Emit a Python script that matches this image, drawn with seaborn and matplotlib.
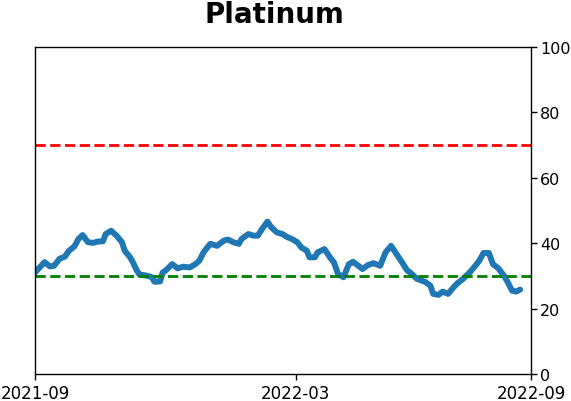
import pandas as pd
import matplotlib.pyplot as plt
import seaborn as sns

# days after 2021-09-01
day_offsets = [0, 1, 7, 11, 14, 18, 22, 25, 29, 32, 35, 39, 43, 46, 50, 52, 56, 60, 64, 66,
               70, 72, 75, 77, 82, 86, 88, 92, 94, 96, 101, 105, 109, 114, 118, 121, 124, 129,
               134, 139, 142, 146, 150, 152, 157, 161, 164, 167, 171, 174, 178, 182, 186, 189,
               193, 196, 200, 202, 206, 208, 213, 217, 220, 223, 227, 231, 234, 238, 241, 245,
               249, 254, 258, 262, 266, 270, 274, 276, 281, 287, 291, 293, 297, 300, 304, 308,
               311, 315, 320, 324, 327, 330, 334, 337, 341, 345, 348, 351, 354, 357]
values = [31.0, 31.5, 34.2, 32.9, 33.1, 35.2, 35.9, 37.7, 39.0, 41.3, 42.5, 40.3, 40.1, 40.5,
          40.6, 42.8, 43.8, 42.3, 40.3, 37.7, 35.7, 34.2, 31.6, 30.4, 30.1, 29.6, 28.2, 28.3,
          31.1, 31.6, 33.6, 32.3, 32.8, 32.6, 33.6, 34.7, 37.2, 39.8, 39.2, 40.8, 41.1, 40.3,
          39.8, 41.3, 42.8, 42.3, 42.3, 44.3, 46.6, 44.8, 43.3, 42.8, 41.8, 41.3, 40.3, 38.7,
          37.7, 35.7, 35.7, 37.2, 38.2, 35.7, 34.1, 30.6, 29.6, 33.6, 34.3, 33.1, 32.1, 33.3,
          33.9, 33.1, 37.2, 39.2, 36.7, 34.2, 31.6, 31.1, 29.1, 28.2, 27.0, 24.5, 24.2, 25.2,
          24.5, 26.5, 27.8, 29.1, 31.1, 33.1, 34.7, 37.0, 37.0, 33.6, 32.3, 30.1, 28.0, 25.5,
          25.2, 25.8]

upper_level = 70
lower_level = 30

tick_dates = ["2021-09-01", "2022-03-12", "2022-09-01"]
tick_labels = ["2021-09", "2022-03", "2022-09"]
x_start, x_end = "2021-09-01", "2022-09-01"

data = pd.DataFrame({
    "date": pd.Timestamp(x_start) + pd.to_timedelta(day_offsets, unit="D"),
    "value": values,
})

sns.set_style("ticks")
plt.rcParams["font.family"] = ["DejaVu Sans"]
plt.rcParams["text.color"] = "black"
plt.rcParams["xtick.color"] = "black"
plt.rcParams["ytick.color"] = "black"

fig = plt.figure(figsize=(5.71, 4.02), dpi=100)
ax = fig.add_axes([35 / 571, 27 / 402, 496 / 571, 327 / 402])

sns.lineplot(data=data, x="date", y="value", ax=ax, color="#1f77b4", linewidth=4.3)
ax.axhline(upper_level, color="red", linestyle="--", linewidth=2)
ax.axhline(lower_level, color="green", linestyle="--", linewidth=2)

ax.set_ylim(0, 100)
ax.set_xlim(pd.Timestamp(x_start), pd.Timestamp(x_end))
ax.set_xticks(pd.to_datetime(tick_dates))
ax.set_xticklabels(tick_labels)
ax.yaxis.tick_right()
ax.set_yticks([0, 20, 40, 60, 80, 100])
ax.tick_params(labelsize=12, length=4, width=1, colors="black")
ax.tick_params(axis="y", labelsize=11.5, pad=2.5)
ax.set_xlabel("")
ax.set_ylabel("")
for s in ax.spines.values():
    s.set_visible(True)
    s.set_linewidth(1)
    s.set_color("black")

fig.text(274 / 571, 1 - 23 / 402, "Platinum", ha="center", va="baseline",
         fontsize=20, fontweight="bold", color="black")

fig.savefig("out.png", dpi=100)
